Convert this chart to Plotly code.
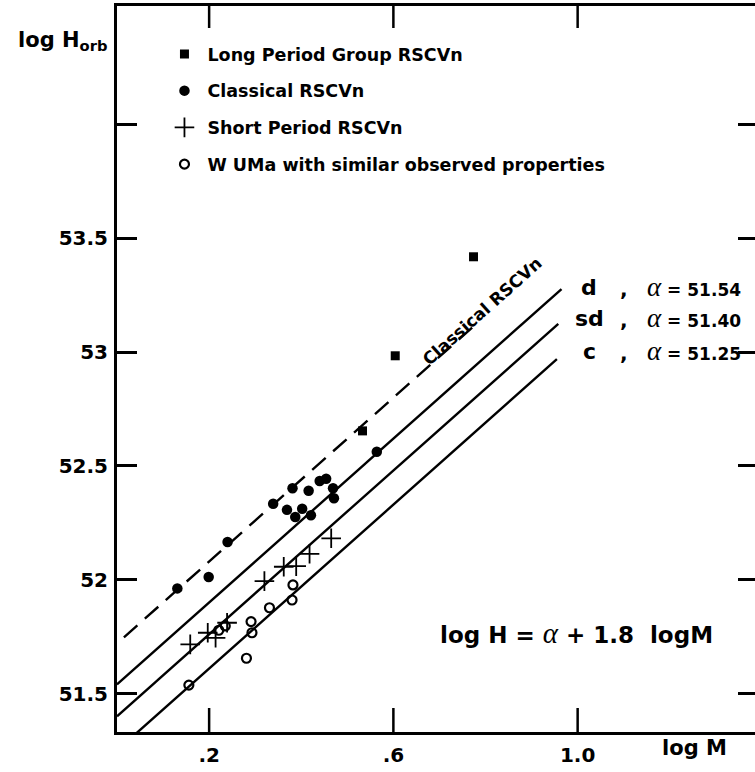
import plotly.graph_objects as go

# ---------------- data ----------------
long_x = [0.533, 0.604, 0.774]
long_y = [52.654, 52.984, 53.419]

class_x = [0.131, 0.199, 0.240, 0.339, 0.369, 0.381, 0.402, 0.387,
           0.416, 0.421, 0.440, 0.454, 0.469, 0.471, 0.564]
class_y = [51.962, 52.012, 52.166, 52.334, 52.307, 52.402, 52.312, 52.276,
           52.391, 52.283, 52.434, 52.444, 52.402, 52.358, 52.562]

short_x = [0.159, 0.197, 0.214, 0.239, 0.320, 0.362, 0.389, 0.418, 0.465]
short_y = [51.716, 51.767, 51.745, 51.811, 51.994, 52.057, 52.060, 52.114, 52.182]

wuma_x = [0.156, 0.221, 0.235, 0.291, 0.293, 0.281, 0.331, 0.382, 0.380]
wuma_y = [51.537, 51.778, 51.797, 51.816, 51.767, 51.655, 51.877, 51.977, 51.911]

line_names = ["d", "sd", "c"]
line_alpha = [51.54, 51.40, 51.25]
line_x_start = [0.0, 0.0, 0.0]
line_x_end = [0.965, 0.958, 0.955]
slope = 1.8

classical_alpha = 51.72
classical_x = [0.015, 0.78]

x_tickvals = [0.2, 0.6, 1.0]
x_ticktext = [".2", ".6", "1.0"]
y_tickvals = [51.5, 52, 52.5, 53, 53.5, 54]
y_ticktext = ["51.5", "52", "52.5", "53", "53.5", ""]

legend_names = ["Long Period Group RSCVn", "Classical RSCVn",
                "Short Period RSCVn", "W UMa with similar observed properties"]

# ---------------- layout geometry ----------------
W, H = 755, 772
L, R, T, B = 116.5, 755, 6, 731.7
PX_PER_Y = 227.5
X_RANGE = [0, (R - L) / 461.0]
Y_RANGE = [51.331, 51.331 + (B - T) / PX_PER_Y]


def fx(p):
    return (p - L) / (R - L)


def fy(p):
    return (B - p) / (B - T)


SANS = "DejaVu Sans"
BLACK = "black"

fig = go.Figure()

# fitted relations
for name, a, x0, x1 in zip(line_names, line_alpha, line_x_start, line_x_end):
    fig.add_trace(go.Scatter(
        x=[x0, x1], y=[a + slope * x0, a + slope * x1], mode="lines",
        line=dict(color=BLACK, width=2.4), showlegend=False, hoverinfo="skip",
        name=name))

fig.add_trace(go.Scatter(
    x=classical_x, y=[classical_alpha + slope * v for v in classical_x],
    mode="lines", line=dict(color=BLACK, width=2.4, dash="18px,10px"),
    showlegend=False, hoverinfo="skip", name="Classical RSCVn line"))

# x-axis tick marks (bottom pointing up, top pointing down), built from the tick values
bot_len = 24 / PX_PER_Y
top_len = 22 / PX_PER_Y
tx, ty = [], []
for v in x_tickvals:
    tx += [v, v, None, v, v, None]
    ty += [Y_RANGE[0], Y_RANGE[0] + bot_len, None,
           Y_RANGE[1], Y_RANGE[1] - top_len, None]
fig.add_trace(go.Scatter(x=tx, y=ty, mode="lines",
                         line=dict(color=BLACK, width=2.5),
                         showlegend=False, hoverinfo="skip", name="x ticks"))

# data points
fig.add_trace(go.Scatter(
    x=long_x, y=long_y, mode="markers", name=legend_names[0],
    marker=dict(symbol="square", size=9, color=BLACK),
    legendgroup="g1", legendrank=1))
fig.add_trace(go.Scatter(
    x=class_x, y=class_y, mode="markers", name=legend_names[1],
    marker=dict(symbol="circle", size=10.5, color=BLACK),
    legendgroup="g2", legendrank=2))
fig.add_trace(go.Scatter(
    x=short_x, y=short_y, mode="markers", name=legend_names[2],
    marker=dict(symbol="cross-thin", size=14, color=BLACK,
                line=dict(color=BLACK, width=1.8)),
    legendgroup="g3", legendrank=3))
fig.add_trace(go.Scatter(
    x=wuma_x, y=wuma_y, mode="markers", name=legend_names[3],
    marker=dict(symbol="circle-open", size=9, color=BLACK,
                line=dict(color=BLACK, width=2.2)),
    legendgroup="g4", legendrank=4))

# empty trace carrying the right-hand tick axis
fig.add_trace(go.Scatter(x=[], y=[], yaxis="y2", showlegend=False,
                         hoverinfo="skip"))

tickfont = dict(family=SANS, size=20, color=BLACK, weight="bold")

fig.update_layout(
    width=W, height=H,
    margin=dict(l=L, r=W - R, t=T, b=H - B, pad=0),
    paper_bgcolor="white", plot_bgcolor="white",
    hovermode=False,
    xaxis=dict(range=X_RANGE, tickvals=x_tickvals, ticktext=x_ticktext,
               ticks="", showline=True, linewidth=3, linecolor=BLACK,
               mirror=True, showgrid=False, zeroline=False,
               tickfont=tickfont, ticklabelstandoff=3),
    yaxis=dict(range=Y_RANGE, tickvals=y_tickvals, ticktext=y_ticktext,
               ticks="inside", ticklen=20, tickwidth=2.5, tickcolor=BLACK,
               showline=True, linewidth=3, linecolor=BLACK, mirror=False,
               showgrid=False, zeroline=False, tickfont=tickfont,
               ticklabelstandoff=2),
    yaxis2=dict(range=Y_RANGE, overlaying="y", side="right", anchor="x",
                tickvals=y_tickvals, showticklabels=False,
                ticks="inside", ticklen=17, tickwidth=2.5, tickcolor=BLACK,
                showline=False, showgrid=False, zeroline=False),
    legend=dict(x=fx(161), y=fy(36), xanchor="left", yanchor="top",
                font=dict(family=SANS, size=17.5, color=BLACK, weight="bold"),
                itemwidth=36, tracegroupgap=11, traceorder="grouped",
                bgcolor="rgba(0,0,0,0)", borderwidth=0),
    showlegend=True,
)

ann = []
# y axis title
ann.append(dict(xref="paper", yref="paper", x=fx(108), y=fy(41),
                xanchor="right", yanchor="middle", showarrow=False,
                text="log H<sub>orb</sub>",
                font=dict(family=SANS, size=21, color=BLACK, weight="bold")))
# x axis title
ann.append(dict(xref="paper", yref="paper", x=fx(694), y=fy(748),
                xanchor="center", yanchor="middle", showarrow=False,
                text="log M",
                font=dict(family=SANS, size=21, color=BLACK, weight="bold")))
# line labels
row_y = [287, 318, 351]
for name, a, py in zip(line_names, line_alpha, row_y):
    ann.append(dict(xref="paper", yref="paper", x=fx(589), y=fy(py),
                    xanchor="center", yanchor="middle", showarrow=False,
                    text=name,
                    font=dict(family=SANS, size=22, color=BLACK, weight="bold")))
    ann.append(dict(xref="paper", yref="paper", x=fx(624), y=fy(py + 2),
                    xanchor="center", yanchor="middle", showarrow=False,
                    text=",",
                    font=dict(family=SANS, size=20, color=BLACK, weight="bold")))
    ann.append(dict(xref="paper", yref="paper", x=fx(645), y=fy(py),
                    xanchor="left", yanchor="middle", showarrow=False,
                    text=('<span style="font-family:Liberation Serif;font-size:27px;font-weight:normal"><i>α</i></span>'
                          ' = %.2f' % a),
                    font=dict(family=SANS, size=17, color=BLACK, weight="bold")))
# rotated label on dashed line
ann.append(dict(xref="x", yref="y", x=0.793, y=53.181, textangle=-41.6,
                xanchor="center", yanchor="middle", showarrow=False,
                text="Classical RSCVn",
                font=dict(family=SANS, size=17, color=BLACK, weight="bold")))
# relation
ann.append(dict(xref="paper", yref="paper", x=fx(438), y=fy(633),
                xanchor="left", yanchor="middle", showarrow=False,
                text=('log H = <span style="font-family:Liberation Serif;font-size:29px;font-weight:normal"><i>α</i></span>'
                      ' + 1.8  logM'),
                font=dict(family=SANS, size=23, color=BLACK, weight="bold")))
fig.update_layout(annotations=ann)

fig.write_html(
    "out.html",
    config={"displayModeBar": False},
    post_script="document.body.style.margin='0';document.body.style.overflow='hidden';",
)
